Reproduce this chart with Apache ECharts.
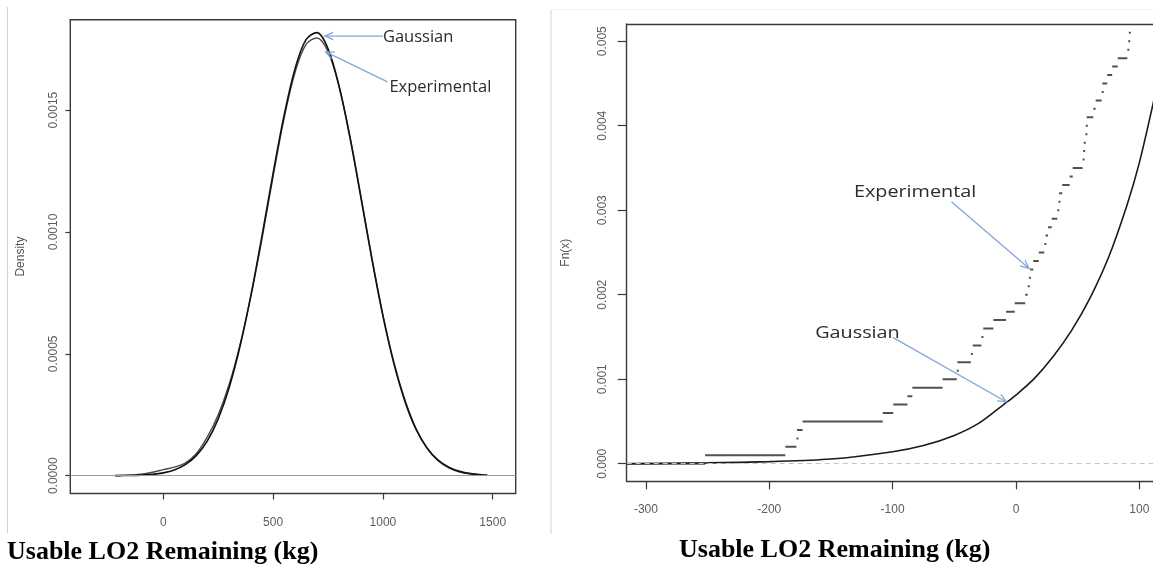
<!DOCTYPE html>
<html>
<head>
<meta charset="utf-8">
<script src="https://cdn.jsdelivr.net/npm/echarts@6/dist/echarts.min.js"></script>
<style>
  html, body { margin: 0; padding: 0; background: #fff; }
  #chart { width: 1153px; height: 567px; }
</style>
</head>
<body>
<div id="chart"></div>
<script>
// ---- Density panel (usable LO2 remaining, kg) ----
const densityX = [-220, -200, -150, -100, -50, 0, 50, 100, 150, 200, 250, 300, 350, 400, 450, 500, 550, 600, 650, 700,
  750, 800, 850, 900, 950, 1000, 1050, 1100, 1150, 1200, 1250, 1300, 1350, 1400, 1450, 1475];
const gaussianDensity = [0.0000002, 0.0000004, 0.0000010, 0.0000024, 0.0000054, 0.0000116, 0.0000235, 0.0000452, 0.0000824, 0.000142,
  0.000233, 0.000362, 0.000533, 0.000745, 0.000987, 0.001241, 0.001478, 0.001670, 0.001789, 0.001818,
  0.001752, 0.001600, 0.001387, 0.001140, 0.000888, 0.000656, 0.000460, 0.000306, 0.000192, 0.000115,
  0.000065, 0.000035, 0.0000178, 0.0000086, 0.0000039, 0.0000026];
const experimentalDensity = [0.0000005, 0.000001, 0.000003, 0.000006, 0.000014, 0.000025, 0.000035, 0.000052, 0.000090, 0.000158,
  0.000250, 0.000375, 0.000540, 0.000742, 0.000975, 0.001228, 0.001466, 0.001655, 0.001770, 0.001796,
  0.001740, 0.001598, 0.001392, 0.001146, 0.000893, 0.000660, 0.000466, 0.000312, 0.000195, 0.000114,
  0.000062, 0.000032, 0.000015, 0.000007, 0.000003, 0.000001];
const densityXTicks = [0, 500, 1000, 1500];
const densityYTicks = [0, 0.0005, 0.0010, 0.0015];

// ---- Lower-tail CDF panel ----
const cdfX = [-316, -250, -200, -150, -100, -75, -50, -30, -10, 0, 15, 30, 45, 60, 75, 90, 100, 111, 116];
const gaussianCdf = [0.0000000, 0.0000100, 0.0000250, 0.0000550, 0.000142, 0.000215, 0.000335, 0.000480, 0.000700, 0.000813,
  0.001010, 0.001265, 0.001575, 0.001960, 0.002440, 0.003060, 0.003560, 0.004250, 0.004600];
// empirical CDF: x where each level starts, and the level held until the next jump
const ecdfJumps = [-320, -252, -187, -178, -177.5, -173, -108, -99.5, -88, -84,
  -59.5, -48, -47.5, -36.6, -35, -28, -26.5, -18.3, -8, -1,
  7.5, 9.5, 10.5, 11.5, 14, 18.5, 23, 24, 26, 29,
  33.5, 34.5, 35, 37.5, 43.5, 46, 54, 54.5, 55, 56.3,
  56.6, 57.3, 62.7, 64.6, 69.5, 70, 74, 78, 82.5, 90.3,
  91, 91.5];
const ecdfLevels = [0.0000, 0.0001, 0.0002, 0.0003, 0.0004, 0.0005, 0.0006, 0.0007, 0.0008, 0.0009,
  0.0010, 0.0011, 0.0012, 0.0013, 0.0014, 0.0015, 0.0016, 0.0017, 0.0018, 0.0019,
  0.0020, 0.0021, 0.0022, 0.0023, 0.0024, 0.0025, 0.0026, 0.0027, 0.0028, 0.0029,
  0.0030, 0.0031, 0.0032, 0.0033, 0.0034, 0.0035, 0.0036, 0.0037, 0.0038, 0.0039,
  0.0040, 0.0041, 0.0042, 0.0043, 0.0044, 0.0045, 0.0046, 0.0047, 0.0048, 0.0049,
  0.0050, 0.0051];
const ecdfLastX = 92;
const cdfXTicks = [-300, -200, -100, 0, 100];
const cdfYTicks = [0, 0.001, 0.002, 0.003, 0.004, 0.005];

const axisTitle = 'Usable LO2 Remaining (kg)';

// ---- build series data ----
const zip = (xs, ys) => xs.map((x, i) => [x, ys[i]]);
const ecdfSegments = ecdfJumps.map((x, i) => [x, i + 1 < ecdfJumps.length ? ecdfJumps[i + 1] : ecdfLastX, ecdfLevels[i]]);

const tickFont = { fontFamily: 'Liberation Sans', fontSize: 12, color: '#5c5c5c' };
const frameColor = '#3a3a3a';
const frameLine = { show: true, onZero: false, lineStyle: { color: frameColor, width: 1.4 } };

function valueAxis(extra) {
  return Object.assign({
    type: 'value',
    scale: false,
    splitLine: { show: false },
    axisLine: { show: false, onZero: false }
  }, extra);
}

function ticks(values, length) {
  return { show: true, inside: false, length: length, customValues: values, lineStyle: { color: frameColor, width: 1.2 } };
}

function labels(values, extra) {
  return Object.assign({ customValues: values, formatter: v => String(v) }, tickFont, extra);
}

const chart = echarts.init(document.getElementById('chart'), null, { renderer: 'canvas' });

// the CDF panel's x range runs past the right edge, so its frame is drawn from axis lines
const cdfXMin = -315.6, cdfXMax = 111.1;

const option = {
  animation: false,
  backgroundColor: '#ffffff',
  title: [
    { text: axisTitle, left: 7, top: 537, padding: 0,
      textStyle: { fontFamily: 'Liberation Serif', fontWeight: 'bold', fontSize: 26, lineHeight: 30, color: '#000' } },
    { text: axisTitle, left: 679, top: 535, padding: 0,
      textStyle: { fontFamily: 'Liberation Serif', fontWeight: 'bold', fontSize: 26, lineHeight: 30, color: '#000' } }
  ],
  grid: [
    { left: 70.3, top: 19.7, width: 445.4, height: 473.8, show: true, borderColor: frameColor, borderWidth: 1.4, backgroundColor: 'transparent' },
    { left: 626.7, top: 24, width: 526.3, height: 457.3, show: false }
  ],
  xAxis: [
    valueAxis({ gridIndex: 0, min: -423.5, max: 1604.7,
      axisTick: ticks(densityXTicks, 6),
      axisLabel: labels(densityXTicks, { margin: 23 }) }),
    valueAxis({ gridIndex: 1, min: cdfXMin, max: cdfXMax, position: 'bottom',
      axisLine: frameLine,
      axisTick: ticks(cdfXTicks, 8),
      axisLabel: labels(cdfXTicks, { margin: 22 }) }),
    valueAxis({ gridIndex: 1, min: cdfXMin, max: cdfXMax, position: 'top',
      axisLine: frameLine, axisTick: { show: false }, axisLabel: { show: false } })
  ],
  yAxis: [
    valueAxis({ gridIndex: 0, min: -0.000073, max: 0.001871,
      name: 'Density', nameLocation: 'middle', nameGap: 44, nameRotate: 90,
      nameTextStyle: { fontFamily: 'Liberation Sans', fontSize: 12, color: '#555' },
      axisTick: ticks(densityYTicks, 5),
      axisLabel: labels(densityYTicks, { rotate: 90, margin: 11, formatter: v => v.toFixed(4) }) }),
    valueAxis({ gridIndex: 1, min: -0.000208, max: 0.005204, position: 'left',
      name: 'Fn(x)', nameLocation: 'middle', nameGap: 55, nameRotate: 90,
      nameTextStyle: { fontFamily: 'Liberation Sans', fontSize: 12, color: '#555' },
      axisLine: frameLine,
      axisTick: ticks(cdfYTicks, 9),
      axisLabel: labels(cdfYTicks, { rotate: 90, margin: 18, formatter: v => v.toFixed(3) }) })
  ],
  series: [
    {
      name: 'Experimental density', type: 'line', xAxisIndex: 0, yAxisIndex: 0,
      data: zip(densityX, experimentalDensity), smooth: 0.35, showSymbol: false, silent: true,
      lineStyle: { color: '#4a4a4a', width: 1.4 }, z: 3,
      markLine: {
        silent: true, symbol: 'none', label: { show: false },
        lineStyle: { color: '#9a9a9a', width: 1, type: 'solid' },
        data: [{ yAxis: 0 }]
      }
    },
    {
      name: 'Gaussian density', type: 'line', xAxisIndex: 0, yAxisIndex: 0,
      data: zip(densityX, gaussianDensity), smooth: 0.35, showSymbol: false, silent: true,
      lineStyle: { color: '#111', width: 1.6 }, z: 4
    },
    {
      name: 'Experimental CDF', type: 'custom', xAxisIndex: 1, yAxisIndex: 1,
      clip: true, silent: true,
      dimensions: ['x0', 'x1', 'level'],
      encode: { x: [0, 1], y: 2 },
      data: ecdfSegments,
      renderItem: function (params, api) {
        const p0 = api.coord([api.value(0), api.value(2)]);
        const p1 = api.coord([api.value(1), api.value(2)]);
        const w = Math.max(p1[0] - p0[0], 2);
        return {
          type: 'line',
          shape: { x1: p0[0], y1: p0[1], x2: p0[0] + w, y2: p0[1] },
          style: { stroke: '#505050', lineWidth: 2 }
        };
      },
      z: 3,
      markLine: {
        silent: true, symbol: 'none', label: { show: false },
        lineStyle: { color: '#c4c4c4', width: 1.2, type: [5, 4] },
        data: [{ yAxis: 0 }]
      }
    },
    {
      name: 'Gaussian CDF', type: 'line', xAxisIndex: 1, yAxisIndex: 1,
      data: zip(cdfX, gaussianCdf), smooth: 0.3, showSymbol: false, silent: true, clip: true,
      lineStyle: { color: '#1a1a1a', width: 1.6 }, z: 4
    }
  ]
};

chart.setOption(option);

// ---- callouts: label text plus a light-blue arrow, anchored in data units ----
const arrowColor = '#83a6d8';
const callouts = [
  { grid: 0, text: 'Gaussian', at: [1000, 0.00180], tail: [1001, 0.001804], tip: [736, 0.001804], size: 16.5, sx: 1 },
  { grid: 0, text: 'Experimental', at: [1029.5, 0.001593], tail: [1021, 0.001616], tip: [739.5, 0.001739], size: 16.5, sx: 1 },
  { grid: 1, text: 'Experimental', at: [-131.4, 0.003207], tail: [-52.3, 0.003101], tip: [10.5, 0.002312], size: 16.5, sx: 1.2 },
  { grid: 1, text: 'Gaussian', at: [-162.8, 0.001543], tail: [-99.9, 0.001496], tip: [-7.9, 0.000734], size: 16.5, sx: 1.2 }
];

const graphics = [
  // panel frames
  { type: 'line', shape: { x1: 7.5, y1: 7, x2: 7.5, y2: 533 }, style: { stroke: '#d2d2d2', lineWidth: 1 }, silent: true },
  { type: 'line', shape: { x1: 551, y1: 10, x2: 551, y2: 534 }, style: { stroke: '#d2d2d2', lineWidth: 1 }, silent: true },
  { type: 'line', shape: { x1: 551, y1: 9.5, x2: 1153, y2: 9.5 }, style: { stroke: '#f2f2f2', lineWidth: 1 }, silent: true }
];

callouts.forEach(c => {
  const finder = { gridIndex: c.grid };
  const t = chart.convertToPixel(finder, c.at);
  const a = chart.convertToPixel(finder, c.tail);
  const b = chart.convertToPixel(finder, c.tip);
  const ang = Math.atan2(b[1] - a[1], b[0] - a[0]);
  const L = 9, spread = 0.42;
  const h1 = [b[0] - L * Math.cos(ang - spread), b[1] - L * Math.sin(ang - spread)];
  const h2 = [b[0] - L * Math.cos(ang + spread), b[1] - L * Math.sin(ang + spread)];
  graphics.push(
    { type: 'line', silent: true, z: 10, shape: { x1: a[0], y1: a[1], x2: b[0], y2: b[1] },
      style: { stroke: arrowColor, lineWidth: 1.3 } },
    { type: 'polyline', silent: true, z: 10, shape: { points: [h1, b, h2] },
      style: { stroke: arrowColor, lineWidth: 1.3, fill: null } },
    { type: 'text', silent: true, z: 11, x: t[0], y: t[1], scaleX: c.sx, originX: 0, originY: 0,
      style: { text: c.text, fill: '#2b2b2b', font: c.size + 'px "Open Sans"',
        textAlign: 'left', textVerticalAlign: 'middle', align: 'left', verticalAlign: 'middle' } }
  );
});

chart.setOption({ graphic: { elements: graphics } });
</script>
</body>
</html>
